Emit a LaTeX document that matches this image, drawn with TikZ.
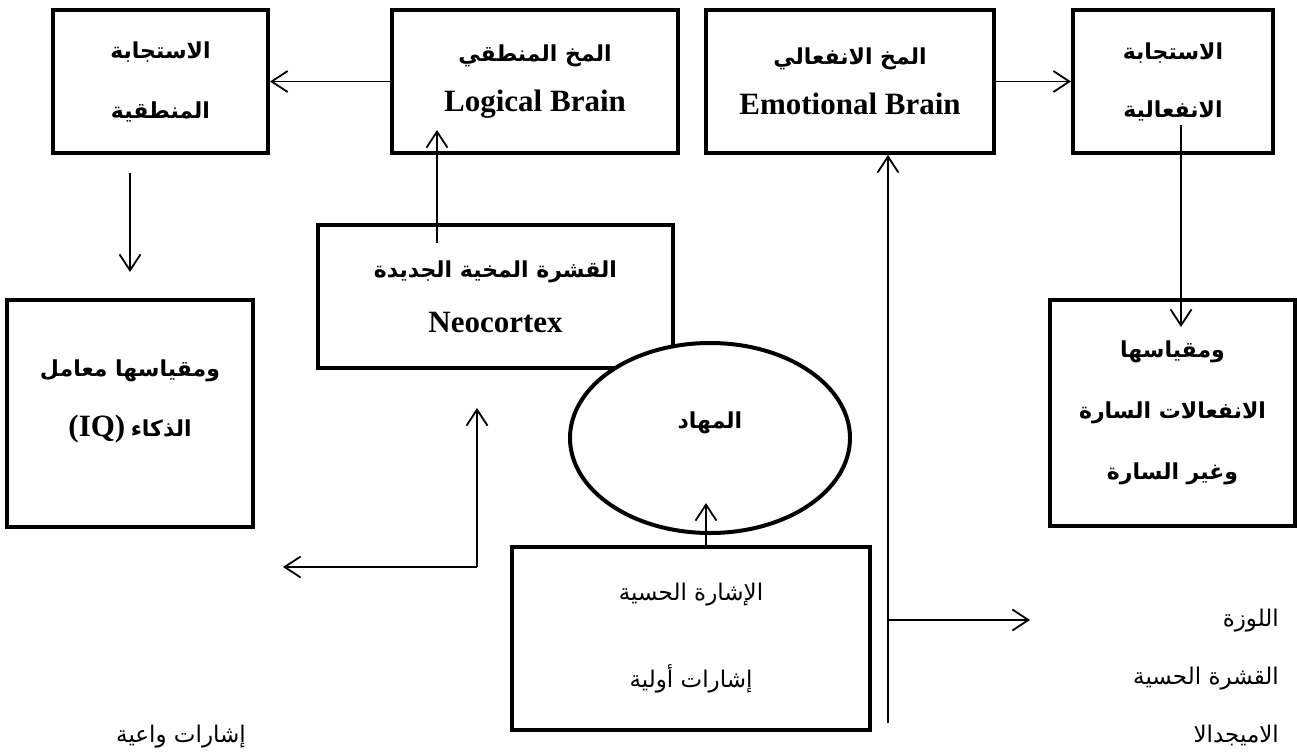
\documentclass[tikz,border=0pt]{standalone}
\usepackage{fontspec}
\setmainfont{Liberation Serif}
\newfontfamily\arabicfont[Script=Arabic]{DejaVu Sans}
\TeXXeTstate=1
\usetikzlibrary{arrows.meta,shapes.geometric}
\newcommand{\arbold}[1]{{\arabicfont\bfseries\beginR #1\endR}}
\newcommand{\arplain}[1]{{\arabicfont\beginR #1\endR}}
\newcommand{\enbold}[1]{{\fontsize{31}{50}\selectfont\bfseries #1}}
\begin{document}
\begin{tikzpicture}[x=1pt,y=-1pt,
  box/.style={draw, line width=4pt, rectangle, inner sep=0pt, align=center, fill=white},
  boxtext/.style={inner sep=0pt, align=center},
  conn/.style={line width=1.8pt, -{Straight Barb[length=16pt,width=21pt,line width=1.8pt]}},
  freetext/.style={inner sep=0pt, font=\fontsize{23}{28}\selectfont}]
\useasboundingbox[fill=white] (0,0) rectangle (1297,752);

% top row
\node[box, minimum width=215pt, minimum height=143pt, font=\fontsize{22}{60}\selectfont] (A) at (160.5,81.5)
  {\arbold{الاستجابة}\\\arbold{المنطقية}};
\node[box, minimum width=286pt, minimum height=143pt, font=\fontsize{22}{50}\selectfont] (B) at (535,81.5)
  {\arbold{المخ المنطقي}\\\enbold{Logical Brain}};
\node[box, minimum width=288pt, minimum height=143pt, font=\fontsize{22}{50}\selectfont] (C) at (850,81.5)
  {\arbold{المخ الانفعالي}\\\enbold{Emotional Brain}};
\node[box, minimum width=200pt, minimum height=143pt, font=\fontsize{22}{58}\selectfont] (D) at (1173,81.5)
  {\arbold{الاستجابة}\\\arbold{الانفعالية}};

% second tier
\node[box, minimum width=246pt, minimum height=227pt] (F) at (130,413.5) {};
\node[boxtext, font=\fontsize{22}{60}\selectfont] (Ftext) at (130,401)
  {\arbold{ومقياسها معامل}\\\enbold{(IQ)} \arbold{الذكاء}};
\node[box, minimum width=245pt, minimum height=226pt, font=\fontsize{22}{61}\selectfont] (E) at (1172.5,413)
  {\arbold{ومقياسها}\\\arbold{الانفعالات السارة}\\\arbold{وغير السارة}};
\node[box, minimum width=355pt, minimum height=143pt, font=\fontsize{22}{55}\selectfont] (G) at (495.5,296.5)
  {\arbold{القشرة المخية الجديدة}\\\enbold{Neocortex}};
\node[draw, ellipse, line width=4pt, fill=white, minimum width=280pt, minimum height=190pt, inner sep=0pt] (H) at (710,438) {};
\node[boxtext, font=\fontsize{22}{24}\selectfont] (Htext) at (710,423) {\arbold{المهاد}};

% bottom box
\node[box, minimum width=358pt, minimum height=183pt, font=\fontsize{23}{87}\selectfont] (I) at (691,638.5)
  {\arplain{الإشارة الحسية}\\\arplain{إشارات أولية}};

% free texts
\node[freetext, anchor=base east] (t1) at (1279,626) {\arplain{اللوزة}};
\node[freetext, anchor=base east] (t2) at (1279,684) {\arplain{القشرة الحسية}};
\node[freetext, anchor=base east] (t3) at (1279,742) {\arplain{الاميجدالا}};
\node[freetext, anchor=base] (t4) at (181,742) {\arplain{إشارات واعية}};

% coordinates for floating connector ends
\coordinate (a1) at (130,173);
\coordinate (a2) at (130,272);
\coordinate (g1) at (437,243);
\coordinate (g2) at (437,130);
\coordinate (d1) at (1181,125);
\coordinate (d2) at (1181,327);
\coordinate (i1) at (706,547);
\coordinate (i2) at (706,503);
\coordinate (lc) at (477,567);
\coordinate (lt) at (477,408);
\coordinate (ll) at (283,567);
\coordinate (m1) at (888,723);
\coordinate (n1) at (888,620);
\coordinate (n2) at (1030,620);

% connectors
\draw[conn] (B.west) -- (A.east);
\draw[conn] (C.east) -- (D.west);
\draw[conn] (a1) -- (a2);
\draw[conn] (g1) -- (g2);
\draw[conn] (d1) -- (d2);
\draw[conn] (i1) -- (i2);
\draw[conn] (lc) -- (lt);
\draw[conn] (lc) -- (ll);
\draw[conn] (m1) -- (m1 |- C.south);
\draw[conn] (n1) -- (n2);
\end{tikzpicture}
\end{document}
